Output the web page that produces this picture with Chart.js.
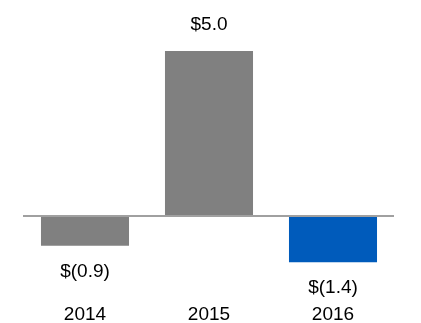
<!DOCTYPE html>
<html>
<head>
<meta charset="utf-8">
<script src="https://cdn.jsdelivr.net/npm/chart.js@4/dist/chart.umd.min.js"></script>
<style>
  html, body { margin: 0; padding: 0; background: #ffffff; }
  #wrap { width: 421px; height: 323px; }
</style>
</head>
<body>
<div id="wrap"><canvas id="c" width="421" height="323"></canvas></div>
<script>
const categories = ["2014", "2015", "2016"];
const values = [-0.9, 5.0, -1.4];
const barColors = ["#808080", "#808080", "#005BBB"];

function fmt(v) {
  return v < 0 ? "$(" + Math.abs(v).toFixed(1) + ")" : "$" + v.toFixed(1);
}

const labelPlugin = {
  id: "labels",
  afterDatasetsDraw(chart) {
    const ctx = chart.ctx;
    const xs = chart.scales.x;
    const ys = chart.scales.y;
    const area = chart.chartArea;
    const y0 = ys.getPixelForValue(0);
    ctx.save();
    // baseline
    ctx.strokeStyle = "#a0a0a0";
    ctx.lineWidth = 2;
    ctx.beginPath();
    ctx.moveTo(area.left, y0);
    ctx.lineTo(area.right - 1, y0);
    ctx.stroke();
    ctx.fillStyle = "#000000";
    ctx.font = "19px 'Liberation Sans', Arial, sans-serif";
    ctx.textAlign = "center";
    ctx.textBaseline = "middle";
    values.forEach((v, i) => {
      const x = xs.getPixelForValue(i);
      const yv = ys.getPixelForValue(v);
      const ly = v >= 0 ? yv - 26 : yv + 26;
      ctx.fillText(fmt(v), x, ly);
      ctx.fillText(categories[i], x, 315);
    });
    ctx.restore();
  }
};

new Chart(document.getElementById("c"), {
  type: "bar",
  data: {
    labels: categories,
    datasets: [{
      data: values,
      backgroundColor: barColors,
      borderWidth: 0,
      categoryPercentage: 1,
      barPercentage: 0.71
    }]
  },
  options: {
    responsive: false,
    animation: false,
    layout: { padding: { left: 23, right: 26, top: 34.5, bottom: 54.2 } },
    plugins: { legend: { display: false }, tooltip: { enabled: false } },
    scales: {
      x: { display: false, offset: true },
      y: { display: false, min: -1.6, max: 5.5 }
    }
  },
  plugins: [labelPlugin]
});
</script>
</body>
</html>
